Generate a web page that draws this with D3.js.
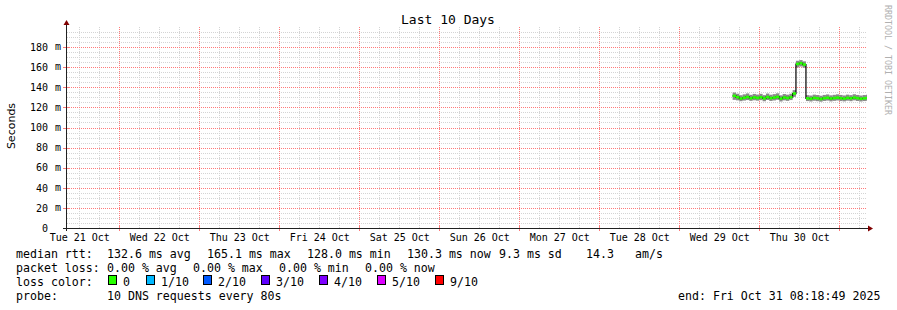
<!DOCTYPE html>
<html>
<head>
<meta charset="utf-8">
<script src="https://cdn.jsdelivr.net/npm/d3@7"></script>
<style>
body { margin: 0; background: #fff; }
svg { display: block; }
text { font-family: 'DejaVu Sans Mono', monospace; fill: #000; }
</style>
</head>
<body>
<div id="chart"></div>
<script>
// chart values
var title = "Last 10 Days";
var yLabel = "Seconds";
var watermark = "RRDTOOL / TOBI OETIKER";
var startTime = new Date(Date.UTC(2025, 9, 21, 8, 18, 49));
var endTime = new Date(Date.UTC(2025, 9, 31, 8, 18, 49));
var sampleStart = new Date(Date.UTC(2025, 9, 29, 16, 0, 0)); // hourly samples from here

// median rtt in ms, one per hour
var median = [
    131.5, 130.2, 128.8, 129.6, 130.4, 129.1, 130.0, 129.4,
    130.1, 128.9, 130.3, 129.2, 129.8, 130.5, 128.7, 129.9, 129.3, 130.2, 133.8,
    163.2, 164.0, 162.6,
    129.0, 128.6, 129.5, 129.1, 128.4, 129.2, 129.6, 128.8, 129.3, 129.7,
    129.1, 128.7, 129.5, 129.0, 129.8, 129.2, 128.6, 129.1, 129.4
];
var smokeLo = [
    127.5, 127.0, 126.2, 126.8, 127.3, 126.5, 127.1, 126.7,
    127.2, 126.1, 127.4, 126.4, 126.9, 127.6, 125.9, 127.0, 126.5, 127.3, 130.5,
    159.8, 160.7, 159.5,
    126.3, 125.9, 126.6, 126.2, 125.7, 126.4, 126.8, 126.0, 126.5, 126.9,
    126.3, 126.0, 126.7, 126.2, 127.0, 126.4, 125.9, 126.3, 126.6
];
var smokeHi = [
    134.8, 133.6, 132.1, 133.0, 133.9, 132.5, 133.4, 132.8,
    133.5, 132.2, 133.8, 132.6, 133.2, 134.0, 132.0, 133.3, 132.7, 133.6, 137.2,
    166.4, 167.1, 165.8,
    132.2, 131.8, 132.7, 132.3, 131.6, 132.4, 132.9, 132.0, 132.5, 133.0,
    132.4, 131.9, 132.7, 132.2, 133.1, 132.4, 131.8, 132.3, 132.6
];

var yTicks = [0, 20, 40, 60, 80, 100, 120, 140, 160, 180];

var rttStats = ["132.6 ms avg", "165.1 ms max", "128.0 ms min", "130.3 ms now", "9.3 ms sd", "14.3", "am/s"];
var lossStats = ["0.00 % avg", "0.00 % max", "0.00 % min", "0.00 % now"];
var lossLabels = ["0", "1/10", "2/10", "3/10", "4/10", "5/10", "9/10"];
var lossColors = ["#26ff00", "#00b8ff", "#0059ff", "#5e00ff", "#7e00ff", "#dd00ff", "#ff0000"];
var probeText = "10 DNS requests every 80s";
var endText = "end: Fri Oct 31 08:18:49 2025";

var W = 897, H = 310;
var gridCol = "#d4d4d4";
var mgridCol = "#ff7a7a";

var svg = d3.select("#chart").append("svg")
    .attr("width", W)
    .attr("height", H);

svg.append("rect").attr("width", W).attr("height", H).attr("fill", "#fff");

var x = d3.scaleUtc().domain([startTime, endTime]).range([67, 867]);
var y = d3.scaleLinear().domain([0, 200]).range([228, 27]);

function px(v){ return Math.round(v) + 0.5; }

// grid
var grid = svg.append("g").attr("shape-rendering", "crispEdges");
var minorY = d3.range(5, 200, 5).filter(function(d){ return d % 20 != 0; });
var majorY = yTicks.filter(function(d){ return d > 0; });
var days = d3.utcDay.range(startTime, endTime);
var sixHours = d3.utcHour.every(6).range(startTime, endTime).filter(function(d){ return d.getUTCHours() != 0; });

grid.selectAll("line.ygrid-minor").data(minorY).enter().append("line")
    .attr("class", "ygrid-minor")
    .attr("x1", 67).attr("x2", 867)
    .attr("y1", function(d){ return px(y(d)); }).attr("y2", function(d){ return px(y(d)); })
    .attr("stroke", gridCol).attr("stroke-dasharray", "1,1");
grid.selectAll("line.xgrid-minor").data(sixHours).enter().append("line")
    .attr("class", "xgrid-minor")
    .attr("x1", function(d){ return px(x(d)); }).attr("x2", function(d){ return px(x(d)); })
    .attr("y1", 27).attr("y2", 228)
    .attr("stroke", gridCol).attr("stroke-dasharray", "1,1");
grid.selectAll("line.ygrid-major").data(majorY).enter().append("line")
    .attr("class", "ygrid-major")
    .attr("x1", 67).attr("x2", 867)
    .attr("y1", function(d){ return px(y(d)); }).attr("y2", function(d){ return px(y(d)); })
    .attr("stroke", mgridCol).attr("stroke-dasharray", "1,1");
grid.selectAll("line.xgrid-major").data(days).enter().append("line")
    .attr("class", "xgrid-major")
    .attr("x1", function(d){ return px(x(d)); }).attr("x2", function(d){ return px(x(d)); })
    .attr("y1", 27).attr("y2", 228)
    .attr("stroke", mgridCol).attr("stroke-dasharray", "1,1");

// data
var sampleTimes = median.map(function(d, i){ return d3.utcHour.offset(sampleStart, i); });
var samples = median.map(function(d, i){
    return {t: sampleTimes[i], t2: d3.min([d3.utcHour.offset(sampleTimes[i], 1), endTime]), med: d, lo: smokeLo[i], hi: smokeHi[i]};
});

var plot = svg.append("g");
plot.selectAll("rect.smoke").data(samples).enter().append("rect")
    .attr("class", "smoke")
    .attr("x", function(d){ return x(d.t); })
    .attr("width", function(d){ return x(d.t2) - x(d.t); })
    .attr("y", function(d){ return y(d.hi); })
    .attr("height", function(d){ return y(d.lo) - y(d.hi); })
    .attr("fill", "#8a8a8a");

var stepLine = d3.line()
    .curve(d3.curveStepAfter)
    .x(function(d){ return x(d.t); })
    .y(function(d){ return y(d.med); });
plot.append("path")
    .datum(samples)
    .attr("d", stepLine)
    .attr("fill", "none")
    .attr("stroke", "#000")
    .attr("stroke-width", 1.2);

plot.selectAll("line.med").data(samples).enter().append("line")
    .attr("class", "med")
    .attr("x1", function(d){ return x(d.t); })
    .attr("x2", function(d){ return x(d.t2); })
    .attr("y1", function(d){ return y(d.med); })
    .attr("y2", function(d){ return y(d.med); })
    .attr("stroke", lossColors[0])
    .attr("stroke-width", 2.6);

// axes
var yAxis = d3.axisLeft(y)
    .tickValues(yTicks)
    .tickSize(0)
    .tickPadding(19)
    .tickFormat(d3.format("d"));
var gy = svg.append("g").attr("transform", "translate(67,0)").call(yAxis);
gy.select(".domain").remove();
gy.selectAll("text").attr("font-family", "DejaVu Sans Mono").attr("font-size", 10).attr("fill", "#000");
svg.selectAll("text.yunit").data(majorY).enter().append("text")
    .attr("class", "yunit")
    .attr("x", 55).attr("y", function(d){ return y(d); }).attr("dy", "0.32em")
    .attr("font-size", 10)
    .text("m");

var xAxis = d3.axisBottom(x)
    .tickValues(days.map(function(d){ return d3.utcHour.offset(d, -12); }))
    .tickSize(0)
    .tickPadding(6)
    .tickFormat(d3.utcFormat("%a %d Oct"));
var gx = svg.append("g").attr("transform", "translate(0,228)").call(xAxis);
gx.select(".domain").remove();
gx.selectAll("text").attr("font-family", "DejaVu Sans Mono").attr("font-size", 10).attr("fill", "#000");

// small ticks on the axes
svg.selectAll("line.xtick").data(days).enter().append("line")
    .attr("class", "xtick")
    .attr("x1", function(d){ return px(x(d)); }).attr("x2", function(d){ return px(x(d)); })
    .attr("y1", 226).attr("y2", 231).attr("stroke", mgridCol);
svg.selectAll("line.ytick").data(yTicks).enter().append("line")
    .attr("class", "ytick")
    .attr("x1", 63).attr("x2", 70)
    .attr("y1", function(d){ return px(y(d)); }).attr("y2", function(d){ return px(y(d)); })
    .attr("stroke", mgridCol);

svg.append("line").attr("x1", 63).attr("x2", 869).attr("y1", 228.5).attr("y2", 228.5).attr("stroke", "#212121");
svg.append("line").attr("x1", 66.5).attr("x2", 66.5).attr("y1", 24).attr("y2", 231).attr("stroke", "#212121");
svg.append("path").attr("d", "M873,228.5L868,225.5L868,231.5Z").attr("fill", "#800000");
svg.append("path").attr("d", "M66.5,20L63.5,25L69.5,25Z").attr("fill", "#800000");

// title and labels
svg.append("text").attr("x", 448).attr("y", 24).attr("text-anchor", "middle")
    .attr("font-size", 13).text(title);
svg.append("text").attr("transform", "translate(15,126) rotate(-90)").attr("text-anchor", "middle")
    .style("font-family", "'DejaVu Sans', sans-serif").attr("font-size", 11).text(yLabel);
svg.append("text").attr("transform", "translate(885,5) rotate(90)")
    .attr("font-size", 8.3).style("fill", "#b0b0b0").text(watermark);

// legend
var lg = svg.append("g").attr("font-size", 11.6);
lg.append("text").attr("x", 16).attr("y", 258).text("median rtt:");
var rttX = [107, 207, 307, 407, 499, 586, 635];
lg.selectAll("text.rtt").data(rttStats).enter().append("text")
    .attr("class", "rtt")
    .attr("x", function(d, i){ return rttX[i]; }).attr("y", 258).text(function(d){ return d; });

lg.append("text").attr("x", 16).attr("y", 272).text("packet loss:");
var lossX = [107, 193, 279, 365];
lg.selectAll("text.loss").data(lossStats).enter().append("text")
    .attr("class", "loss")
    .attr("x", function(d, i){ return lossX[i]; }).attr("y", 272).text(function(d){ return d; });

lg.append("text").attr("x", 16).attr("y", 286).text("loss color:");
var boxX = [108, 146, 203, 261, 319, 377, 435];
lg.selectAll("rect.lbox").data(lossColors).enter().append("rect")
    .attr("class", "lbox")
    .attr("x", function(d, i){ return boxX[i] + 0.5; }).attr("y", 275.5)
    .attr("width", 8).attr("height", 9)
    .attr("fill", function(d){ return d; })
    .attr("stroke", "#000");
lg.selectAll("text.llab").data(lossLabels).enter().append("text")
    .attr("class", "llab")
    .attr("x", function(d, i){ return boxX[i] + 15; }).attr("y", 286).text(function(d){ return d; });

lg.append("text").attr("x", 16).attr("y", 300).text("probe:");
lg.append("text").attr("x", 107).attr("y", 300).text(probeText);
lg.append("text").attr("x", 678).attr("y", 300).text(endText);
</script>
</body>
</html>
